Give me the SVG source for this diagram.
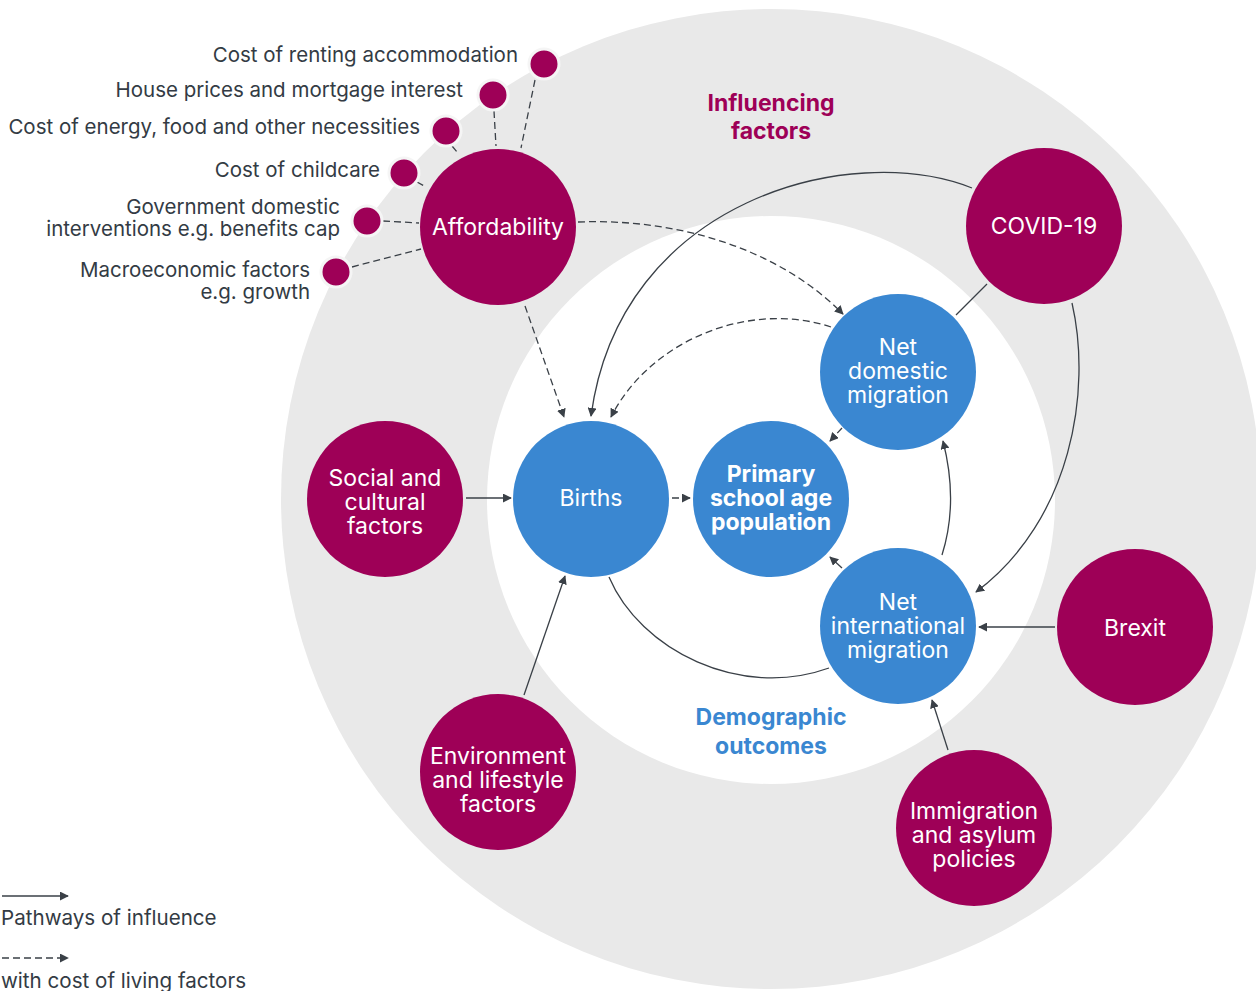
<svg xmlns="http://www.w3.org/2000/svg" width="1256" height="991" viewBox="0 0 1256 991">
  <style>
    text { font-family: "Inter", "Liberation Sans", sans-serif; }
    .lbl { font-size: 20.5px; fill: #333b44; text-anchor: end; }
    .nodeM { fill: #9e0057; }
    .nodeB { fill: #3a87d1; }
    .nt { font-size: 23px; fill: #ffffff; text-anchor: middle; }
    .ntb { font-size: 23px; fill: #ffffff; text-anchor: middle; font-weight: 700; }
    .dot { fill: #9e0057; stroke: #f5f5f5; stroke-width: 3; }
    .ttlM { font-size: 23px; font-weight: 700; fill: #9e0057; text-anchor: middle; }
    .ttlB { font-size: 23px; font-weight: 700; fill: #3a87d1; text-anchor: middle; }
    .ln { fill: none; stroke: #3a4047; stroke-width: 1.3; }
    .dash { stroke-dasharray: 7 4; }
    .leg { font-size: 20.6px; fill: #333b44; }
  </style>
  <defs>
    <marker id="ah" viewBox="0 0 10 10" refX="9" refY="5" markerWidth="9" markerHeight="9" markerUnits="userSpaceOnUse" orient="auto">
      <path d="M0,0 L10,5 L0,10 z" fill="#3a4047"/>
    </marker>
  </defs>

  <!-- background rings -->
  <rect width="1256" height="991" fill="#ffffff"/>
  <circle cx="771" cy="499" r="490" fill="#e9e9e9"/>
  <circle cx="771" cy="500" r="284" fill="#ffffff"/>

  <text class="ttlM" x="771" y="111">Influencing<tspan x="771" dy="28">factors</tspan></text>
  <text class="ttlB" x="771" y="725">Demographic<tspan x="771" dy="29">outcomes</tspan></text>

  <!-- connectors -->
  <g id="connectors">
    <!-- cost-of-living inputs to affordability -->
    <path class="ln dash" d="M535,80 L521,148"/>
    <path class="ln dash" d="M494,111 L496,146"/>
    <path class="ln dash" d="M452,146 L458,153"/>
    <path class="ln dash" d="M417,182 L426,187"/>
    <path class="ln dash" d="M383,221 L419,223"/>
    <path class="ln dash" d="M352,267 L421,249"/>

    <path class="ln dash" d="M578,222 C680,218 780,250 843,314" marker-end="url(#ah)"/>
    <path class="ln dash" d="M525,306 L564,417" marker-end="url(#ah)"/>
    <path class="ln" d="M972,188 C850,140 620,200 591,416" marker-end="url(#ah)"/>
    <path class="ln" d="M1072,303 C1092,390 1072,520 976,592" marker-end="url(#ah)"/>
    <path class="ln" d="M987,284 L956,315"/>
    <path class="ln dash" d="M831,327 C750,300 650,340 611,417" marker-end="url(#ah)"/>
    <path class="ln dash" d="M842,428 L830,441" marker-end="url(#ah)"/>
    <path class="ln dash" d="M672,498 L690,498" marker-end="url(#ah)"/>
    <path class="ln" d="M842,568 L830,557" marker-end="url(#ah)"/>
    <path class="ln" d="M942,555 C953,520 953,480 943,441" marker-end="url(#ah)"/>
    <path class="ln" d="M609,577 C640,650 740,700 829,668"/>
    <path class="ln" d="M466,498 L511,498" marker-end="url(#ah)"/>
    <path class="ln" d="M524,695 L565,576" marker-end="url(#ah)"/>
    <path class="ln" d="M1055,627 L979,627" marker-end="url(#ah)"/>
    <path class="ln" d="M948,750 L932,700" marker-end="url(#ah)"/>

    <!-- legend -->
    <path class="ln" d="M2,896 L68,896" marker-end="url(#ah)"/>
    <path class="ln dash" d="M2,958 L68,958" marker-end="url(#ah)"/>
  </g>
  <text class="leg" x="1" y="925">Pathways of influence</text>
  <text class="leg" x="1" y="988">with cost of living factors</text>

  <!-- cost-of-living input dots -->
  <g id="renting">
    <circle class="dot" cx="544" cy="64" r="15"/>
    <text class="lbl" x="518" y="62">Cost of renting accommodation</text>
  </g>
  <g id="house-prices">
    <circle class="dot" cx="493" cy="95" r="15"/>
    <text class="lbl" x="463" y="97">House prices and mortgage interest</text>
  </g>
  <g id="energy-food">
    <circle class="dot" cx="446" cy="131" r="15"/>
    <text class="lbl" x="420" y="134">Cost of energy, food and other necessities</text>
  </g>
  <g id="childcare">
    <circle class="dot" cx="404" cy="173" r="15"/>
    <text class="lbl" x="380" y="177">Cost of childcare</text>
  </g>
  <g id="gov-interventions">
    <circle class="dot" cx="367" cy="221" r="15"/>
    <text class="lbl" x="340" y="214">Government domestic<tspan x="340" dy="22">interventions e.g. benefits cap</tspan></text>
  </g>
  <g id="macroeconomic">
    <circle class="dot" cx="336" cy="272" r="15"/>
    <text class="lbl" x="310" y="277">Macroeconomic factors<tspan x="310" dy="22">e.g. growth</tspan></text>
  </g>

  <!-- influencing factors -->
  <g id="affordability">
    <circle class="nodeM" cx="498" cy="227" r="78"/>
    <text class="nt" x="498" y="235">Affordability</text>
  </g>
  <g id="covid">
    <circle class="nodeM" cx="1044" cy="226" r="78"/>
    <text class="nt" x="1044" y="234">COVID-19</text>
  </g>
  <g id="social">
    <circle class="nodeM" cx="385" cy="499" r="78"/>
    <text class="nt" x="385" y="486">Social and<tspan x="385" dy="24">cultural</tspan><tspan x="385" dy="24">factors</tspan></text>
  </g>
  <g id="environment">
    <circle class="nodeM" cx="498" cy="772" r="78"/>
    <text class="nt" x="498" y="764">Environment<tspan x="498" dy="24">and lifestyle</tspan><tspan x="498" dy="24">factors</tspan></text>
  </g>
  <g id="brexit">
    <circle class="nodeM" cx="1135" cy="627" r="78"/>
    <text class="nt" x="1135" y="636">Brexit</text>
  </g>
  <g id="immigration">
    <circle class="nodeM" cx="974" cy="828" r="78"/>
    <text class="nt" x="974" y="819">Immigration<tspan x="974" dy="24">and asylum</tspan><tspan x="974" dy="24">policies</tspan></text>
  </g>

  <!-- demographic outcomes -->
  <g id="births">
    <circle class="nodeB" cx="591" cy="499" r="78"/>
    <text class="nt" x="591" y="506">Births</text>
  </g>
  <g id="primary">
    <circle class="nodeB" cx="771" cy="499" r="78"/>
    <text class="ntb" x="771" y="482">Primary<tspan x="771" dy="24">school age</tspan><tspan x="771" dy="24">population</tspan></text>
  </g>
  <g id="net-domestic">
    <circle class="nodeB" cx="898" cy="372" r="78"/>
    <text class="nt" x="898" y="355">Net<tspan x="898" dy="24">domestic</tspan><tspan x="898" dy="24">migration</tspan></text>
  </g>
  <g id="net-international">
    <circle class="nodeB" cx="898" cy="626" r="78"/>
    <text class="nt" x="898" y="610">Net<tspan x="898" dy="24">international</tspan><tspan x="898" dy="24">migration</tspan></text>
  </g>
</svg>
